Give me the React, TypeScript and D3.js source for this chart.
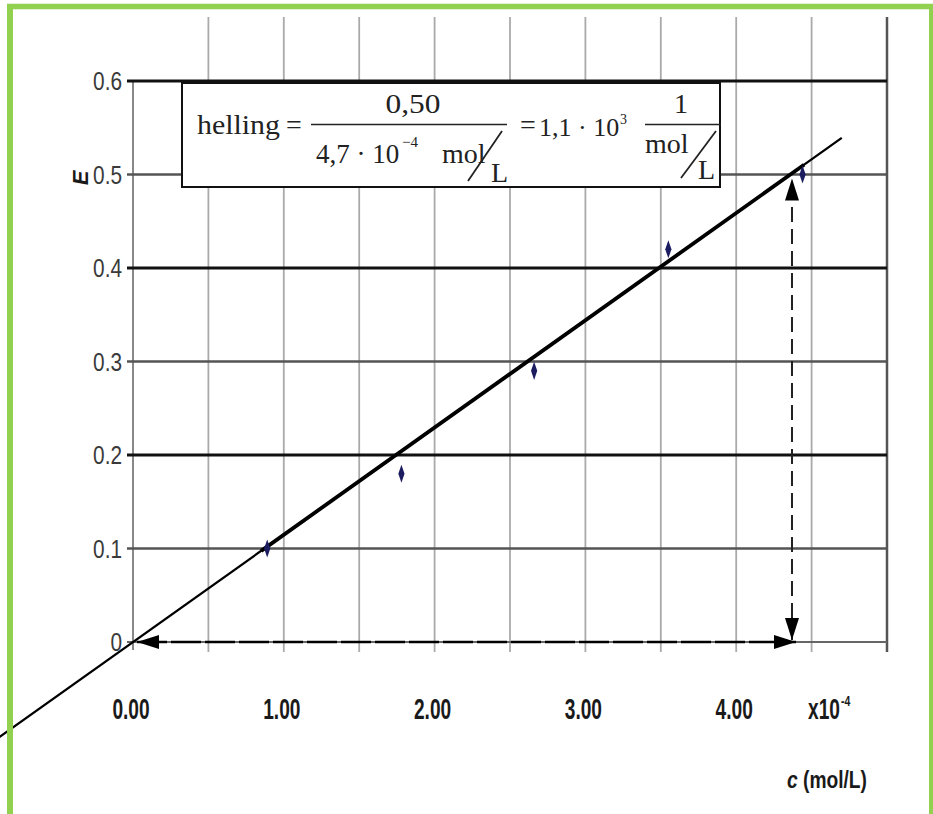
import React from "react";
import * as d3 from "d3";

// measured points (c in 10^-4 mol/L, E)
const concentrations = [0.89, 1.78, 2.66, 3.55, 4.44];
const extinctions = [0.1, 0.18, 0.29, 0.42, 0.5];

const xTicks = [0, 1, 2, 3, 4];
const xTickLabels = ["0.00", "1.00", "2.00", "3.00", "4.00"];
const xGrid = [0.5, 1, 1.5, 2, 2.5, 3, 3.5, 4, 4.5];
const yTicks = [0, 0.1, 0.2, 0.3, 0.4, 0.5, 0.6];
const yTickLabels = ["0", "0.1", "0.2", "0.3", "0.4", "0.5", "0.6"];
const yMajor = [0.2, 0.4, 0.6];

// drawn trendline and read-off
const trendSlope = 0.1147;
const trendExtent = [-0.9, 4.7];
const trendThick = [0.85, 4.45];
const readOff = { c: 4.37, e: 0.5 };

const W = 933;
const H = 814;
const green = "#92d050";

export default function App() {
  const x = d3.scaleLinear().domain([0, 5]).range([133, 887]);
  const y = d3.scaleLinear().domain([0, 0.6]).range([642, 81]);

  const line = d3
    .line<number>()
    .x((c) => x(c))
    .y((c) => y(c * trendSlope));

  const diamond = d3.symbol().type(d3.symbolDiamond).size(52)();

  const serif = "'Liberation Serif', 'Times New Roman', serif";
  const sans = "'Liberation Sans', Arial, sans-serif";

  return (
    <svg
      width={W}
      height={H}
      style={{ position: "absolute", left: 0, top: 0, background: "#fff" }}
    >
      <defs>
        <marker
          id="arrow"
          viewBox="0 0 22 14"
          refX={22}
          refY={7}
          markerWidth={22}
          markerHeight={14}
          markerUnits="userSpaceOnUse"
          orient="auto-start-reverse"
        >
          <path d="M0,0 L22,7 L0,14 z" fill="#000" />
        </marker>
      </defs>

      {/* vertical grid */}
      {xGrid.map((c) => (
        <line key={c} x1={x(c)} x2={x(c)} y1={17} y2={652} stroke="#aaa" strokeWidth={1.8} />
      ))}
      <line x1={x(0)} x2={x(0)} y1={y(0.6)} y2={650} stroke="#888" strokeWidth={2} />
      <line x1={x(5)} x2={x(5)} y1={17} y2={652} stroke="#555" strokeWidth={2.5} />

      {/* horizontal grid */}
      {yTicks.map((v) => (
        <line
          key={v}
          x1={127}
          x2={x(5)}
          y1={y(v)}
          y2={y(v)}
          stroke={v === 0 ? "#666" : yMajor.includes(v) ? "#111" : "#555"}
          strokeWidth={v === 0 ? 2 : yMajor.includes(v) ? 3.2 : 2.6}
        />
      ))}

      {/* y tick labels */}
      {yTicks.map((v, i) => (
        <text
          key={v}
          transform={`translate(122,${y(v) + 9}) scale(0.8,1)`}
          textAnchor="end"
          fontFamily={sans}
          fontSize={26}
          fill="#3a3a3a"
        >
          {yTickLabels[i]}
        </text>
      ))}

      {/* x tick labels */}
      {xTicks.map((c, i) => (
        <text
          key={c}
          transform={`translate(${x(c) - 2},719) scale(0.66,1)`}
          textAnchor="middle"
          fontFamily={sans}
          fontWeight="bold"
          fontSize={29}
          fill="#1a1a1a"
        >
          {xTickLabels[i]}
        </text>
      ))}
      <text
        transform="translate(808,719) scale(0.66,1)"
        fontFamily={sans}
        fontWeight="bold"
        fontSize={29}
        fill="#1a1a1a"
      >
        x10
      </text>
      <text
        transform="translate(841,706) scale(0.7,1)"
        fontFamily={sans}
        fontWeight="bold"
        fontSize={15}
        fill="#1a1a1a"
      >
        -4
      </text>

      {/* axis titles */}
      <text
        transform="translate(787,788) scale(0.8,1)"
        fontFamily={sans}
        fontWeight="bold"
        fontSize={24}
        fill="#1a1a1a"
      >
        <tspan fontStyle="italic">c</tspan> (mol/L)
      </text>
      <text
        transform="translate(80,178) rotate(-90)"
        textAnchor="middle"
        dominantBaseline="central"
        fontFamily={sans}
        fontWeight="bold"
        fontStyle="italic"
        fontSize={22}
        fill="#1a1a1a"
      >
        E
      </text>

      {/* trendline */}
      <path d={line(trendExtent) ?? ""} stroke="#000" strokeWidth={2.2} fill="none" />
      <path d={line(trendThick) ?? ""} stroke="#000" strokeWidth={3.8} fill="none" />

      {/* data points */}
      {concentrations.map((c, i) => (
        <path
          key={c}
          d={diamond}
          transform={`translate(${x(c)},${y(extinctions[i])}) scale(0.8,1.35)`}
          fill="#1c1c60"
        />
      ))}

      {/* read-off arrows */}
      <line
        x1={x(0) + 4}
        x2={x(readOff.c) + 4}
        y1={y(0)}
        y2={y(0)}
        stroke="#000"
        strokeWidth={2.5}
        strokeDasharray="30 4"
        markerStart="url(#arrow)"
        markerEnd="url(#arrow)"
      />
      <line
        x1={x(readOff.c)}
        x2={x(readOff.c)}
        y1={y(0) - 2}
        y2={y(readOff.e) + 4}
        stroke="#222"
        strokeWidth={2}
        strokeDasharray="15 7"
        markerStart="url(#arrow)"
        markerEnd="url(#arrow)"
      />

      {/* formula box */}
      <rect x={182} y={83} width={538} height={104} fill="#fff" stroke="#111" strokeWidth={2} />
      <g fontFamily={serif} fontSize={28} fill="#222">
        <text x={197} y={134} textLength={83} lengthAdjust="spacingAndGlyphs">helling</text>
        <text x={294} y={134} textAnchor="middle">=</text>
        <line x1={311} x2={507} y1={124.5} y2={124.5} stroke="#222" strokeWidth={1.6} />
        <text x={413} y={112.5} textAnchor="middle" textLength={55} lengthAdjust="spacingAndGlyphs">0,50</text>
        <text x={316} y={163} fontSize={27}>4,7 · 10</text>
        <text x={402} y={147} fontSize={15}>−4</text>
        <text x={442} y={163}>mol</text>
        <line x1={468} x2={502} y1={181} y2={131} stroke="#222" strokeWidth={1.8} />
        <text x={491} y={182}>L</text>
        <text x={528} y={134} textAnchor="middle">=</text>
        <text x={539} y={136} fontSize={26}>1,1 · 10</text>
        <text x={620} y={124} fontSize={14}>3</text>
        <line x1={645} x2={721} y1={124.5} y2={124.5} stroke="#222" strokeWidth={1.6} />
        <text x={681} y={112.5} textAnchor="middle">1</text>
        <text x={645} y={153}>mol</text>
        <line x1={681} x2={716} y1={178} y2={131} stroke="#222" strokeWidth={1.8} />
        <text x={698} y={179}>L</text>
      </g>

      {/* green frame */}
      <line x1={10} x2={10} y1={4} y2={H + 5} stroke={green} strokeWidth={6} />
      <line x1={7} x2={W + 5} y1={6.5} y2={6.5} stroke={green} strokeWidth={5.5} />
      <line x1={931.5} x2={931.5} y1={4} y2={H + 5} stroke={green} strokeWidth={5} />
    </svg>
  );
}
